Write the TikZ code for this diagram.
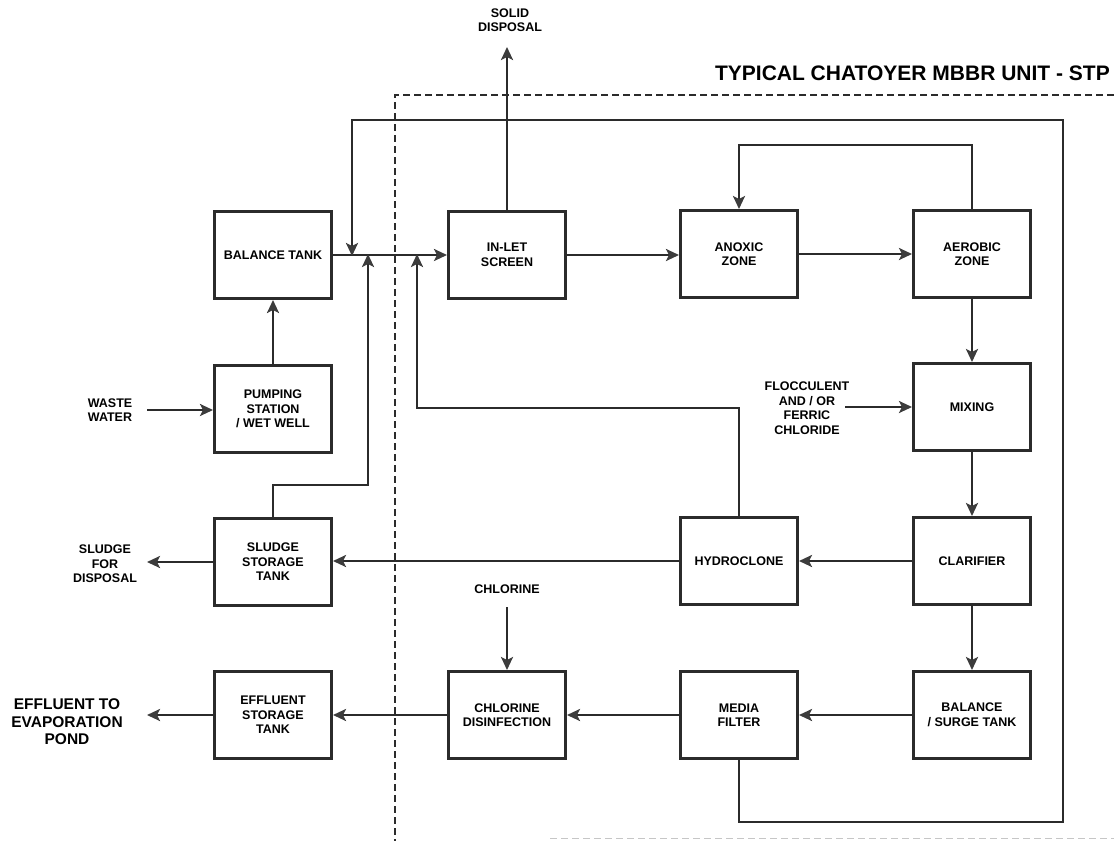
\documentclass[tikz,border=0pt]{standalone}
\usepackage{fontspec}
\setmainfont{Liberation Sans}
\usetikzlibrary{arrows.meta}
\definecolor{ink}{HTML}{2B2B2B}
\definecolor{tipc}{HTML}{3C3C3C}
\begin{document}
\begin{tikzpicture}[x=1pt,y=-1pt,
  box/.style={draw=ink,line width=3pt,minimum width=117pt,minimum height=87pt,
    align=center,font=\fontsize{12.5}{14.5}\selectfont\bfseries,inner sep=2pt},
  lbl/.style={align=center,font=\fontsize{12.5}{14.5}\selectfont\bfseries,inner sep=0pt},
  flow/.style={draw=ink,line width=2.8pt,line join=miter},
  arr/.style={flow,-{Stealth[length=13pt,width=12pt,inset=3pt,fill=tipc,color=tipc]}},
  bound/.style={draw=ink,line width=1.2pt,dash pattern=on 7pt off 4pt}]
\useasboundingbox (0,0) rectangle (1114,841);
% boundary
\draw[bound] (1114,95) -- (395,95) -- (395,841);
\draw[draw=gray!45,line width=1pt,dash pattern=on 7pt off 4pt] (550,838) -- (1114,838);
\node[anchor=base east,inner sep=0pt,font=\fontsize{21}{24}\selectfont\bfseries] (title) at (1110,80) {TYPICAL CHATOYER MBBR UNIT - STP};
% boxes
\node[box] (bal) at (273,255) {BALANCE TANK};
\node[box] (inlet) at (507,255) {IN-LET\\SCREEN};
\node[box] (anoxic) at (739,254) {ANOXIC\\ZONE};
\node[box] (aerobic) at (972,254) {AEROBIC\\ZONE};
\node[box] (mixing) at (972,407) {MIXING};
\node[box] (clar) at (972,561) {CLARIFIER};
\node[box] (hydro) at (739,561) {HYDROCLONE};
\node[box] (sludge) at (273,562) {SLUDGE\\STORAGE\\TANK};
\node[box] (pump) at (273,409) {PUMPING\\STATION\\/ WET WELL};
\node[box] (surge) at (972,715) {BALANCE\\/ SURGE TANK};
\node[box] (media) at (739,715) {MEDIA\\FILTER};
\node[box] (chlor) at (507,715) {CHLORINE\\DISINFECTION};
\node[box] (eff) at (273,715) {EFFLUENT\\STORAGE\\TANK};
% free labels
\node[lbl] (solid) at (510,20) {SOLID\\DISPOSAL};
\node[lbl] (waste) at (110,410) {WASTE\\WATER};
\node[lbl] (sfd) at (105,564) {SLUDGE\\FOR\\DISPOSAL};
\node[lbl] (floc) at (807,408) {FLOCCULENT\\AND / OR\\FERRIC\\CHLORIDE};
\node[lbl] (cl) at (507,589) {CHLORINE};
\node[lbl,font=\fontsize{15.5}{17.5}\selectfont\bfseries] (evap) at (67,722) {EFFLUENT TO\\EVAPORATION\\POND};
% coordinates
\coordinate (j1) at (352,255);
\coordinate (j2) at (368,255);
\coordinate (j3) at (417,255);
\coordinate (sd) at (507,47);
\coordinate (wwS) at (147,410);
\coordinate (flS) at (845,407);
\coordinate (clS) at (507,607);
\coordinate (sfdE) at (147,562);
\coordinate (evE) at (147,715);
% main line
\draw[arr] (bal.east |- j1) -- (inlet.west |- j1);
\draw[arr] (pump.north) -- (bal.south);
\draw[arr] (wwS) -- (pump.west |- wwS);
\draw[arr] (inlet.north) -- (sd);
\draw[arr] (inlet.east) -- (anoxic.west |- inlet.east);
\draw[arr] (anoxic.east) -- (aerobic.west |- anoxic.east);
\draw[arr] (aerobic.north) -- (972,145) -- (739,145) -- (anoxic.north);
\draw[arr] (aerobic.south) -- (mixing.north);
\draw[arr] (flS) -- (mixing.west |- flS);
\draw[arr] (mixing.south) -- (clar.north);
\draw[arr] (clar.west) -- (hydro.east);
\draw[arr] (hydro.west) -- (sludge.east |- hydro.west);
\draw[arr] (sludge.west |- sfdE) -- (sfdE);
\draw[arr] (clar.south) -- (surge.north);
\draw[arr] (surge.west) -- (media.east);
\draw[arr] (media.west) -- (chlor.east);
\draw[arr] (clS) -- (chlor.north);
\draw[arr] (chlor.west) -- (eff.east);
\draw[arr] (eff.west) -- (evE);
% recycle lines
\draw[arr] (media.south) -- (739,822) -- (1063,822) -- (1063,120) -- (352,120) -- ([yshift=-1pt]j1);
\draw[arr] (sludge.north) -- (273,485) -- (368,485) -- ([yshift=1pt]j2);
\draw[arr] (hydro.north) -- (739,408) -- (417,408) -- ([yshift=1pt]j3);
\end{tikzpicture}
\end{document}
